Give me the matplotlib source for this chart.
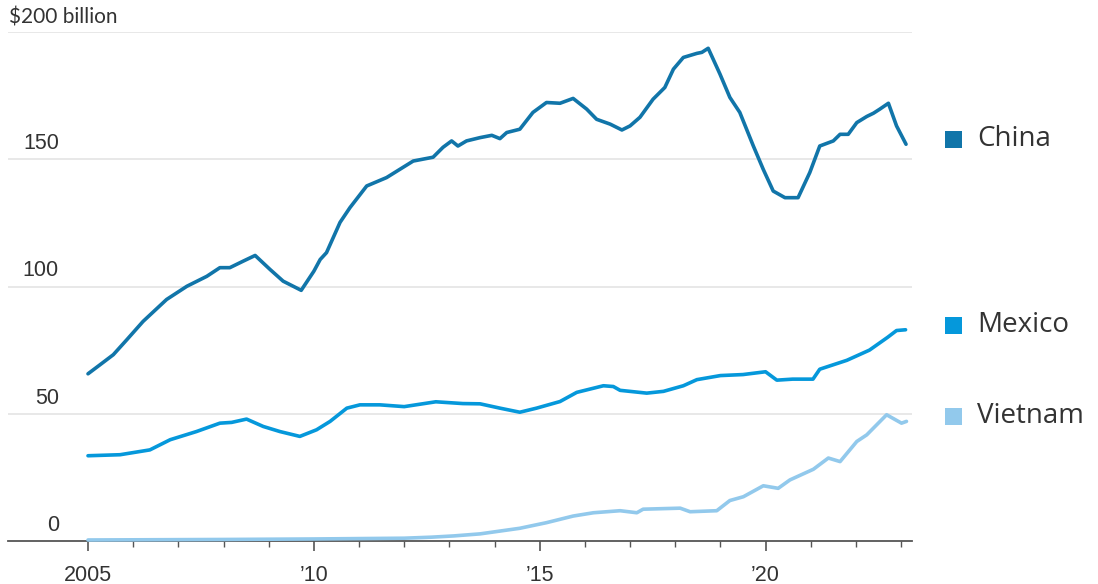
import matplotlib
matplotlib.use('Agg')
import matplotlib.pyplot as plt
import matplotlib.transforms as mtransforms
from matplotlib.patches import Rectangle

# values ($ billion)
china_x = [2005.0, 2005.27, 2005.56, 2005.86, 2006.22, 2006.74, 2007.19, 2007.63, 2007.92, 2008.14,
           2008.44, 2008.7, 2009.03, 2009.32, 2009.72, 2010.0, 2010.14, 2010.28, 2010.58, 2010.8,
           2011.17, 2011.61, 2011.9, 2012.2, 2012.64, 2012.86, 2013.05, 2013.19, 2013.38, 2013.68,
           2013.94, 2014.12, 2014.27, 2014.56, 2014.85, 2015.15, 2015.45, 2015.74, 2016.04, 2016.26,
           2016.56, 2016.82, 2017.0, 2017.22, 2017.51, 2017.77, 2017.96, 2018.18, 2018.48, 2018.59,
           2018.73, 2018.99, 2019.21, 2019.43, 2019.73, 2019.95, 2020.17, 2020.43, 2020.72, 2020.98,
           2021.2, 2021.5, 2021.65, 2021.83, 2022.02, 2022.24, 2022.39, 2022.53, 2022.72, 2022.9,
           2023.11]
china_y = [65.7, 69.3, 73.2, 79.1, 86.3, 94.9, 100.1, 104.0, 107.4, 107.4,
           110.0, 112.2, 106.7, 102.1, 98.5, 106.0, 110.6, 113.3, 125.2, 131.0,
           139.5, 142.8, 146.0, 149.3, 150.8, 154.7, 157.2, 155.2, 157.2, 158.5,
           159.4, 158.1, 160.5, 161.8, 168.4, 172.3, 172.0, 173.9, 169.7, 165.7,
           163.8, 161.5, 163.1, 166.5, 173.6, 178.2, 185.4, 190.0, 191.6, 192.0,
           193.6, 183.5, 174.3, 168.4, 155.2, 146.0, 137.5, 134.9, 134.9, 144.8,
           155.2, 157.2, 159.8, 159.8, 164.4, 166.8, 168.1, 169.7, 172.0, 163.1,
           155.9]

mexico_x = [2005.0, 2005.71, 2006.37, 2006.82, 2007.4, 2007.92, 2008.18, 2008.51, 2008.88, 2009.25,
            2009.69, 2010.06, 2010.36, 2010.73, 2011.02, 2011.46, 2012.0, 2012.7, 2013.3, 2013.68,
            2014.12, 2014.56, 2014.93, 2015.45, 2015.82, 2016.41, 2016.63, 2016.78, 2017.37, 2017.74,
            2018.18, 2018.48, 2019.0, 2019.5, 2020.0, 2020.25, 2020.6, 2021.05, 2021.2, 2021.8,
            2022.3, 2022.7, 2022.9, 2023.1]
mexico_y = [33.5, 33.9, 35.8, 39.8, 43.0, 46.3, 46.6, 47.9, 45.0, 43.0,
            41.1, 43.7, 47.0, 52.2, 53.5, 53.5, 52.8, 54.7, 54.0, 53.9,
            52.2, 50.6, 52.2, 54.8, 58.4, 61.0, 60.7, 59.2, 58.1, 58.8,
            61.0, 63.4, 65.0, 65.4, 66.5, 63.2, 63.6, 63.6, 67.5, 71.0,
            75.0, 80.0, 82.7, 83.0]

vietnam_x = [2005.0, 2008.0, 2010.0, 2012.0, 2012.6, 2013.1, 2013.68, 2014.56, 2015.15, 2015.74,
             2016.19, 2016.78, 2017.15, 2017.29, 2018.11, 2018.33, 2018.92, 2019.21, 2019.51, 2019.95,
             2020.28, 2020.54, 2021.06, 2021.39, 2021.65, 2022.02, 2022.24, 2022.68, 2023.01, 2023.12]
vietnam_y = [0.4, 0.6, 0.8, 1.1, 1.5, 2.0, 2.8, 5.0, 7.2, 9.8,
             11.1, 11.9, 11.1, 12.5, 12.9, 11.5, 11.9, 15.9, 17.4, 21.7,
             20.7, 24.0, 28.2, 32.6, 31.2, 39.1, 41.7, 49.6, 46.3, 47.0]

y_ticks = [0, 50, 100, 150, 200]
y_labels = ['0', '50', '100', '150', '$200 billion']
x_major = [2005, 2010, 2015, 2020]
x_labels = ['2005', '\u201910', '\u201915', '\u201920']
x_minor = list(range(2005, 2024))

names = ['China', 'Mexico', 'Vietnam']
colors = ['#1175a9', '#0598db', '#92c9ec']

tick_font = ['Liberation Sans Narrow', 'Liberation Sans', 'DejaVu Sans']
label_font = ['Open Sans', 'DejaVu Sans']

W, H = 1098, 584
fig = plt.figure(figsize=(W / 100, H / 100), dpi=100)
ax = fig.add_axes([8 / W, (H - 541) / H, 904 / W, (541 - 32) / H])

ax.plot(china_x, china_y, color=colors[0], lw=2.6, solid_capstyle='round',
        solid_joinstyle='round', clip_on=False, zorder=3)
ax.plot(mexico_x, mexico_y, color=colors[1], lw=2.6, solid_capstyle='round',
        solid_joinstyle='round', clip_on=False, zorder=3)
ax.plot(vietnam_x, vietnam_y, color=colors[2], lw=2.6, solid_capstyle='round',
        solid_joinstyle='round', clip_on=False, zorder=3)

ax.set_xlim(2005 - 80 / 45.17, 2005 + 824 / 45.17)
ax.set_ylim(0, 200)

for s in ['top', 'right', 'left']:
    ax.spines[s].set_visible(False)
ax.spines['bottom'].set_color('#555555')
ax.spines['bottom'].set_linewidth(1.3)
ax.spines['bottom'].set_zorder(2)

# grid
for v in y_ticks[1:]:
    ax.axhline(v, color='#e6e6e6', lw=1.3, zorder=1)

ax.set_yticks([])
trans = mtransforms.blended_transform_factory(ax.transAxes, ax.transData)
for v, lab in zip(y_ticks, y_labels):
    if v == 200:
        t = mtransforms.offset_copy(trans, fig=fig, x=1, y=5, units='dots')
        ax.text(0, v, lab, transform=t, ha='left', va='bottom', fontsize=15,
                family=['Lato', 'DejaVu Sans'], color='#333333')
    else:
        t = mtransforms.offset_copy(trans, fig=fig, x=51, y=5, units='dots')
        ax.text(0, v, lab, transform=t, ha='right', va='bottom', fontsize=15.5,
                family=tick_font, color='#333333')

ax.set_xticks(x_major)
ax.set_xticklabels(x_labels, fontsize=15.5, family=tick_font, color='#333333')
ax.set_xticks(x_minor, minor=True)
ax.tick_params(axis='x', which='major', length=7, width=1.2, color='#555555', pad=10)
ax.tick_params(axis='x', which='minor', length=4, width=1.0, color='#555555')

# legend labels on the right
legend_y = [139, 325, 416]
for name, c, py in zip(names, colors, legend_y):
    fig.patches.append(Rectangle((945 / W, (H - py - 8.5) / H), 17 / W, 17 / H,
                                 transform=fig.transFigure, facecolor=c, edgecolor='none'))
    fig.text(977 / W, (H - py) / H, name, ha='left', va='center', fontsize=20,
             family=label_font, color='#333333')

fig.savefig('out.png', dpi=100)
